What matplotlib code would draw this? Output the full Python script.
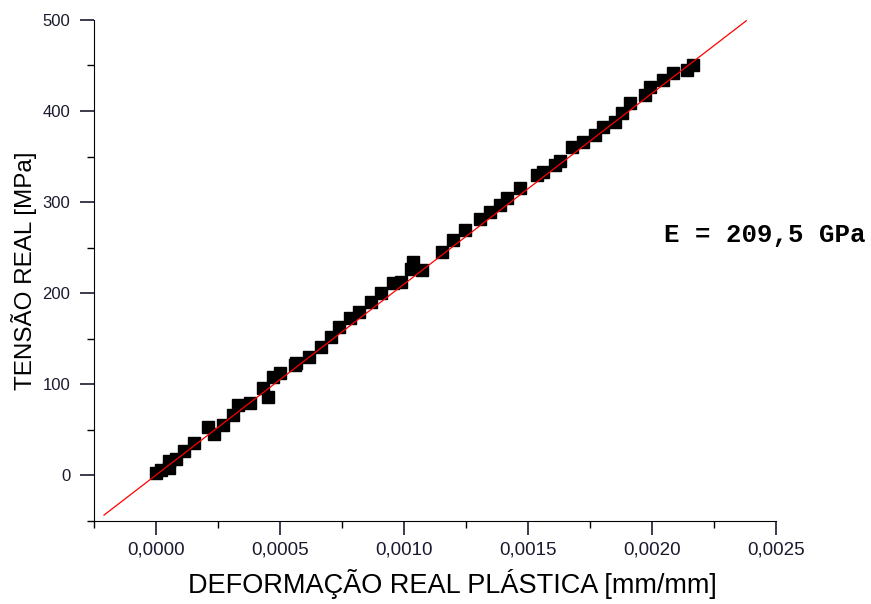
import numpy as np
import matplotlib.pyplot as plt
from matplotlib.ticker import MultipleLocator, FuncFormatter

# strain [mm/mm] and true stress [MPa]
deformacao = [0.0, 0.00002, 0.000052, 0.000052, 0.00008, 0.000113, 0.000153,
              0.000209, 0.000233, 0.00027, 0.00031, 0.00033, 0.00038, 0.00043,
              0.00045, 0.00047, 0.0005, 0.00056, 0.000563, 0.000615, 0.000664,
              0.000704, 0.000736, 0.000784, 0.000817, 0.000865, 0.000905,
              0.000957, 0.000986, 0.001026, 0.001038, 0.001074, 0.001154,
              0.001199, 0.001247, 0.001307, 0.001348, 0.001388, 0.001416,
              0.001468, 0.001537, 0.00156, 0.001609, 0.00163, 0.001677,
              0.001722, 0.00177, 0.001802, 0.00185, 0.001879, 0.001911,
              0.001971, 0.001991, 0.002043, 0.002084, 0.00214, 0.002164]
tensao = [3, 6, 8, 16, 18, 27, 36,
          53, 46, 55, 66, 77, 79, 96,
          86, 108, 112, 121, 123, 130, 141,
          152, 163, 173, 179, 190, 200,
          211, 212, 227, 234, 225, 245,
          258, 269, 282, 289, 297, 305,
          315, 330, 333, 341, 345, 360,
          366, 374, 382, 388, 398, 409,
          418, 426, 434, 442, 445, 451]

# linear fit shown in red
E_mpa = 209500
fit_x = np.array([-0.00021, 0.00238])
fit_y = E_mpa * fit_x + 0.5

plt.rcParams['font.family'] = ['Liberation Sans', 'DejaVu Sans']

fig = plt.figure(figsize=(8.71, 6.04), dpi=100)
ax = fig.add_axes([0.108, 0.1374, 0.783, 0.8296])

ax.plot(deformacao, tensao, 's', color='black', markersize=8, zorder=2)
ax.plot(fit_x, fit_y, color='red', linewidth=0.9, zorder=3)

ax.set_xlim(-0.00025, 0.0025)
ax.set_ylim(-50, 500)

ax.spines['top'].set_visible(False)
ax.spines['right'].set_visible(False)

ax.xaxis.set_major_locator(MultipleLocator(0.0005))
ax.xaxis.set_minor_locator(MultipleLocator(0.00025))
ax.yaxis.set_major_locator(MultipleLocator(100))
ax.yaxis.set_minor_locator(MultipleLocator(50))
ax.xaxis.set_major_formatter(FuncFormatter(lambda v, p: f'{v:.4f}'.replace('.', ',')))
ax.yaxis.set_major_formatter(FuncFormatter(lambda v, p: f'{v:.0f}'))

ax.tick_params(which='major', direction='out', length=10, width=1.2, colors='#1a1a2e')
ax.tick_params(axis='x', which='major', labelsize=13.5, pad=5)
ax.tick_params(axis='y', which='major', labelsize=12, pad=7)
ax.tick_params(which='minor', direction='out', length=5, width=1.0)

ax.set_xlabel('DEFORMAÇÃO REAL PLÁSTICA [mm/mm]', fontsize=19.5, labelpad=7)
ax.xaxis.label.set_x(0.525)
ax.set_ylabel('TENSÃO REAL [MPa]', fontsize=17.5, labelpad=4)

ax.text(0.00205, 264, 'E = 209,5 GPa', family='Liberation Mono', weight='bold',
        fontsize=18.5, va='center', ha='left')

plt.savefig('out.png', dpi=100)
